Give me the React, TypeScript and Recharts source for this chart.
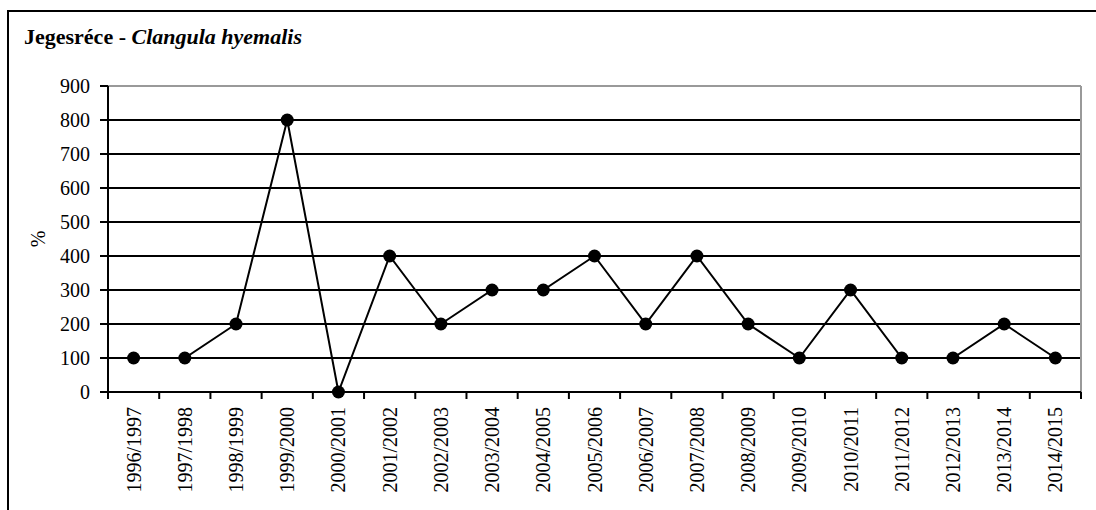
import React from "react";
import {
  LineChart,
  Line,
  XAxis,
  YAxis,
  CartesianGrid,
  ReferenceLine,
} from "recharts";

const seasons = [
  "1996/1997", "1997/1998", "1998/1999", "1999/2000", "2000/2001",
  "2001/2002", "2002/2003", "2003/2004", "2004/2005", "2005/2006",
  "2006/2007", "2007/2008", "2008/2009", "2009/2010", "2010/2011",
  "2011/2012", "2012/2013", "2013/2014", "2014/2015",
];
const values = [
  100, 100, 200, 800, 0, 400, 200, 300, 300, 400,
  200, 400, 200, 100, 300, 100, 100, 200, 100,
];
const yTicks = [0, 100, 200, 300, 400, 500, 600, 700, 800, 900];
const gridValues = [100, 200, 300, 400, 500, 600, 700, 800];

const data = seasons.map((s, i) => ({ x: i + 0.5, season: s, v: values[i] }));
const xTicks: number[] = [];
for (let i = 0; i <= seasons.length * 2; i++) xTicks.push(i / 2);

const FONT = "Liberation Serif, Tinos, Times New Roman, Noto Serif, DejaVu Serif, serif";

const XTick = (props: any) => {
  const { x, y, payload } = props;
  const v = payload.value as number;
  if (Number.isInteger(v)) {
    return <line x1={x} y1={y} x2={x} y2={y + 7} stroke="#000" strokeWidth={2} />;
  }
  const label = seasons[Math.floor(v)];
  return (
    <text
      x={0}
      y={0}
      transform={`translate(${x + 7},${y + 15}) rotate(-90)`}
      textAnchor="end"
      style={{ fontFamily: FONT, fontSize: 20 }}
      fill="#000"
    >
      {label}
    </text>
  );
};

export default function App() {
  return (
    <div
      style={{
        position: "fixed",
        left: 0,
        top: 0,
        width: 1096,
        height: 510,
        overflow: "hidden",
        background: "#fff",
        fontFamily: FONT,
      }}
    >
      <div
        style={{
          position: "absolute",
          left: 7,
          top: 10,
          width: 1089,
          height: 500,
          borderLeft: "2px solid #000",
          borderTop: "2px solid #000",
          boxSizing: "border-box",
        }}
      />
      <div
        style={{
          position: "absolute",
          left: 24,
          top: 24,
          fontFamily: FONT,
          fontSize: 22,
          fontWeight: "bold",
          color: "#000",
          whiteSpace: "nowrap",
        }}
      >
        Jegesréce - <i>Clangula hyemalis</i>
      </div>
      <div style={{ position: "absolute", left: 0, top: 0 }}>
        <LineChart
          width={1096}
          height={510}
          data={data}
          margin={{ top: 86, right: 15, bottom: 0, left: 0 }}
          style={{ fontFamily: FONT }}
        >
          <CartesianGrid
            horizontal
            vertical={false}
            horizontalValues={gridValues}
            stroke="#000"
            strokeWidth={2}
          />
          <ReferenceLine y={900} stroke="#999" strokeWidth={2} />
          <ReferenceLine x={19} stroke="#999" strokeWidth={2} />
          <XAxis
            dataKey="x"
            type="number"
            domain={[0, 19]}
            ticks={xTicks}
            interval={0}
            tickLine={false}
            tickSize={0}
            tickMargin={0}
            axisLine={{ stroke: "#000", strokeWidth: 2 }}
            tick={<XTick />}
            height={118}
          />
          <YAxis
            type="number"
            domain={[0, 900]}
            ticks={yTicks}
            interval={0}
            width={108}
            tickSize={8}
            tickMargin={10}
            tickLine={{ stroke: "#000", strokeWidth: 2 }}
            axisLine={{ stroke: "#000", strokeWidth: 2 }}
            tick={{ fill: "#000", fontFamily: FONT, fontSize: 20 }}
            label={{
              value: "%",
              angle: -90,
              position: "insideLeft",
              offset: 38,
              style: { fill: "#000", fontFamily: FONT, fontSize: 20, textAnchor: "middle" },
            }}
          />
          <Line
            type="linear"
            dataKey="v"
            stroke="#000"
            strokeWidth={2}
            dot={{ r: 6.5, fill: "#000", stroke: "none" }}
            activeDot={false}
            isAnimationActive={false}
          />
        </LineChart>
      </div>
    </div>
  );
}
